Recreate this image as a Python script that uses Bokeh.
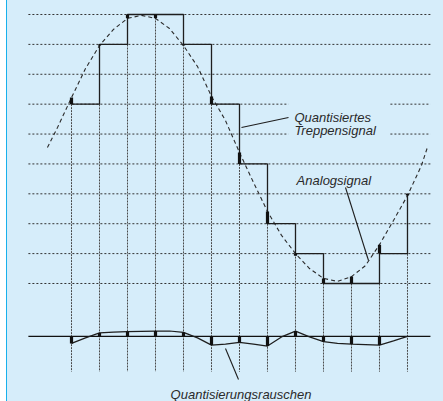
from bokeh.plotting import figure
from bokeh.models import Range1d, Label, GlobalInlineStyleSheet
from bokeh.embed import file_html
from bokeh.resources import INLINE

# ---------------- data ----------------
# sample instants and quantisation levels of the staircase
samples = [0, 1, 2, 3, 4, 5, 6, 7, 8, 9, 10, 11, 12]
stair_levels = [6, 8, 9, 9, 8, 6, 4, 2, 1, 0, 0, 1, 3]
# analog signal value at each sample instant
analog_at_samples = [6.22, 7.96, 8.87, 8.87, 7.96, 6.26, 4.38, 2.41, 0.93, 0.17, 0.23, 1.30, 2.94]
# analog (dashed) curve, read at half-sample steps
analog_t = [-0.86, -0.5, 0, 0.5, 1, 1.5, 2, 2.5, 3, 3.5, 4, 4.5, 5, 5.5, 6, 6.5,
            7, 7.5, 8, 8.5, 9, 9.5, 10, 10.5, 11, 11.5, 12, 12.5, 12.71]
analog_v = [4.55, 5.22, 6.22, 7.19, 7.96, 8.50, 8.87, 8.97, 8.87, 8.53, 7.96, 7.26,
            6.26, 5.45, 4.38, 3.38, 2.41, 1.61, 1.00, 0.50, 0.17, 0.07, 0.23, 0.60,
            1.30, 2.11, 2.94, 3.95, 4.55]
# quantisation noise curve (relative to its own zero line)
noise_t = [0, 0.5, 1, 1.5, 2, 2.5, 3, 3.5, 4, 4.5, 5, 5.5, 6, 6.5, 7, 7.5, 8,
           8.5, 9, 9.5, 10, 10.5, 11, 11.5, 12]
noise_v = [-0.234, -0.05, 0.117, 0.141, 0.157, 0.167, 0.177, 0.181, 0.134, -0.05,
           -0.291, -0.26, -0.201, -0.257, -0.325, -0.017, 0.177, -0.017, -0.177,
           -0.234, -0.258, -0.274, -0.291, -0.151, 0.0]
noise_at_samples = [-0.234, 0.117, 0.157, 0.177, 0.134, -0.291, -0.201, -0.325,
                    0.177, -0.177, -0.258, -0.291, 0.0]
noise_zero = -1.77
grid_levels = [0, 1, 2, 3, 4, 5, 6, 7, 8, 9]
labels = ["Quantisiertes", "Treppensignal", "Analogsignal", "Quantisierungsrauschen"]

# ---------------- figure ----------------
BG = "#d6edfa"
INK = "#1e1e1e"
FONT = "Liberation Sans"

css = GlobalInlineStyleSheet(css=(
    "html, body{background: linear-gradient(to right, #ffffff 0px, #ffffff 6px, "
    "#18b0ec 6px, #18b0ec 7.5px, " + BG + " 7.5px);}"
))

p = figure(width=443, height=401, output_backend="svg", toolbar_location=None,
           x_range=Range1d(-2.536, 13.286), y_range=Range1d(-3.948, 9.468),
           min_border=0, background_fill_color=None, border_fill_color=None,
           outline_line_color=None)
p.axis.visible = False
p.grid.visible = False
p.stylesheets = [css]

# horizontal dotted grid lines (two of them interrupted by the label)
x_left, x_right = -1.54, 12.82
gap_a, gap_b = 7.75, 11.39
hx, hy = [], []
for lv in grid_levels:
    if lv in (5, 6):
        hx += [[x_left, gap_a], [gap_b, x_right]]
        hy += [[lv, lv], [lv, lv]]
    else:
        hx.append([x_left, x_right])
        hy.append([lv, lv])
p.multi_line(hx, hy, line_color="#333333", line_width=1, line_dash="2 2")

# vertical dotted lines at the sample instants
v_bottom = -2.95
p.segment(x0=samples, y0=stair_levels, x1=samples, y1=[v_bottom] * len(samples),
          line_color="#4a4a4a", line_width=1, line_dash="2 1")

# analog signal (dashed)
p.line(analog_t, analog_v, line_color="#2a2a2a", line_width=1.1, line_dash="4 3")

# staircase signal
sx, sy = [samples[0]], [stair_levels[0]]
for i in range(1, len(samples)):
    sx += [samples[i], samples[i]]
    sy += [stair_levels[i - 1], stair_levels[i]]
p.line(sx, sy, line_color=INK, line_width=1.3)

# quantisation error marks on the staircase
p.segment(x0=samples, y0=stair_levels, x1=samples, y1=analog_at_samples,
          line_color="#111111", line_width=3.2, line_cap="butt")

# noise: zero line, curve and marks
p.line([x_left, x_right], [noise_zero, noise_zero], line_color="#111111", line_width=1.4)
p.line(noise_t, [noise_zero + v for v in noise_v], line_color=INK, line_width=1.2)
p.segment(x0=samples, y0=[noise_zero] * len(samples), x1=samples,
          y1=[noise_zero + v for v in noise_at_samples],
          line_color="#111111", line_width=3.2, line_cap="butt")

# leader lines
p.segment(x0=[7.75, 9.786, 5.5], y0=[5.554, 3.212, -2.175],
          x1=[6.071, 10.607, 5.964], y1=[5.219, 0.769, -3.212],
          line_color=INK, line_width=1.1)

# labels
label_pos = [(7.96, 5.544), (7.96, 5.119), (8.04, 3.446), (3.54, -3.714)]
for txt, (lx, ly) in zip(labels, label_pos):
    p.add_layout(Label(x=lx, y=ly, text=txt, text_font=FONT, text_font_style="italic",
                       text_font_size="13px", text_color="#2a2a2a",
                       text_baseline="alphabetic", text_align="left"))

open("out.html", "w").write(file_html(p, INLINE))
